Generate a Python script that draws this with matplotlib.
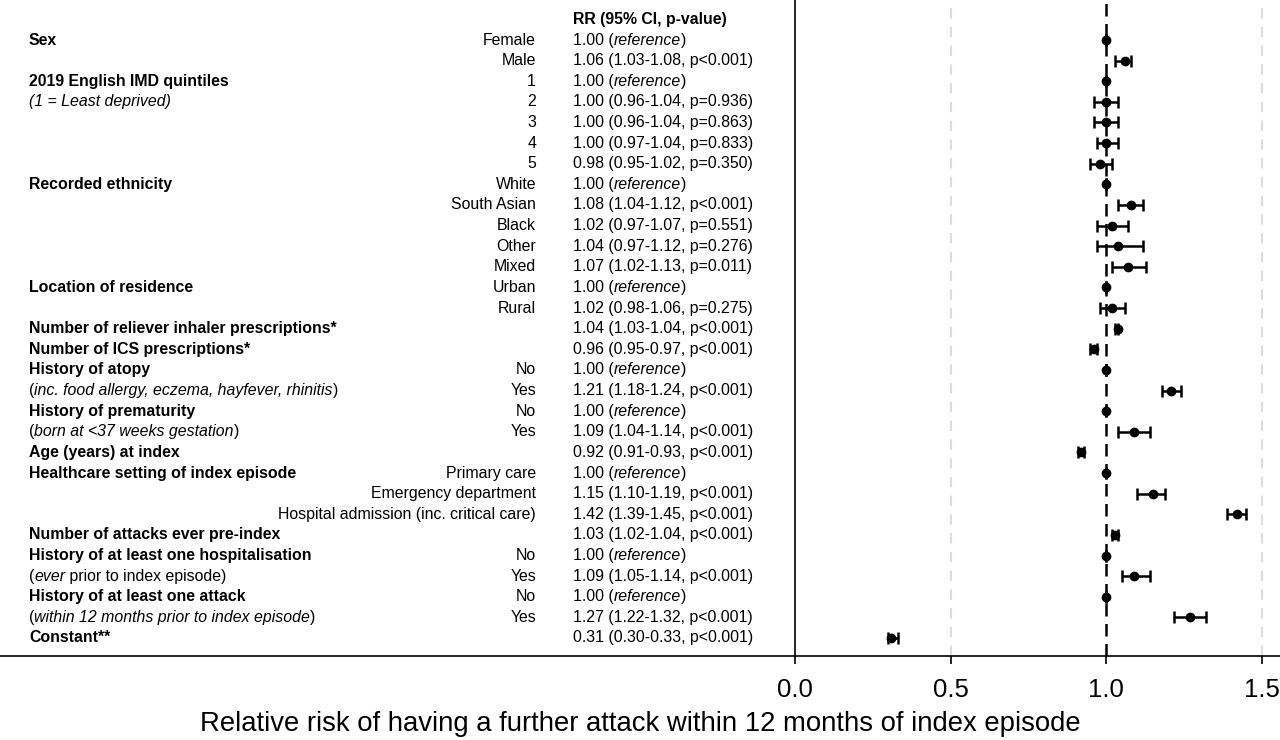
import matplotlib
matplotlib.use("Agg")
import matplotlib.pyplot as plt
from matplotlib.transforms import blended_transform_factory as btf, offset_copy

plt.rcParams['font.family'] = ['Liberation Sans', 'DejaVu Sans']

group_labels = ["Sex", "", "2019 English IMD quintiles", "*(1 = Least deprived)*", "", "", "",
                "Recorded ethnicity", "", "", "", "", "Location of residence", "",
                "Number of reliever inhaler prescriptions*", "Number of ICS prescriptions*",
                "History of atopy", "(*inc. food allergy, eczema, hayfever, rhinitis*)",
                "History of prematurity", "(*born at <37 weeks gestation*)", "Age (years) at index",
                "Healthcare setting of index episode", "", "",
                "Number of attacks ever pre-index", "History of at least one hospitalisation",
                "(*ever* prior to index episode)", "History of at least one attack",
                "(*within 12 months prior to index episode*)", "Constant**"]
categories = ["Female", "Male", "1", "2", "3", "4", "5", "White", "South Asian", "Black", "Other",
              "Mixed", "Urban", "Rural", "", "", "No", "Yes", "No", "Yes", "", "Primary care",
              "Emergency department", "Hospital admission (inc. critical care)", "", "No", "Yes",
              "No", "Yes", ""]
rr = [1.00, 1.06, 1.00, 1.00, 1.00, 1.00, 0.98, 1.00, 1.08, 1.02, 1.04, 1.07, 1.00, 1.02, 1.04, 0.96,
      1.00, 1.21, 1.00, 1.09, 0.92, 1.00, 1.15, 1.42, 1.03, 1.00, 1.09, 1.00, 1.27, 0.31]
lo = [1.00, 1.03, 1.00, 0.96, 0.96, 0.97, 0.95, 1.00, 1.04, 0.97, 0.97, 1.02, 1.00, 0.98, 1.03, 0.95,
      1.00, 1.18, 1.00, 1.04, 0.91, 1.00, 1.10, 1.39, 1.02, 1.00, 1.05, 1.00, 1.22, 0.30]
hi = [1.00, 1.08, 1.00, 1.04, 1.04, 1.04, 1.02, 1.00, 1.12, 1.07, 1.12, 1.13, 1.00, 1.06, 1.04, 0.97,
      1.00, 1.24, 1.00, 1.14, 0.93, 1.00, 1.19, 1.45, 1.04, 1.00, 1.14, 1.00, 1.32, 0.33]
pvals = ["ref", "p<0.001", "ref", "p=0.936", "p=0.863", "p=0.833", "p=0.350", "ref", "p<0.001",
         "p=0.551", "p=0.276", "p=0.011", "ref", "p<0.001", "p<0.001", "p<0.001", "ref", "p<0.001",
         "ref", "p<0.001", "p<0.001", "ref", "p<0.001", "p<0.001", "p<0.001", "ref", "p<0.001",
         "ref", "p<0.001", "p<0.001"]
pvals[13] = "p=0.275"
xticks = [0.0, 0.5, 1.0, 1.5]

W, H = 1280, 740
fig = plt.figure(figsize=(W / 100, H / 100), dpi=100)
renderer = fig.canvas.get_renderer()
ax = fig.add_axes([795 / W, 1 - 656 / H, (W - 795) / W, 656 / H])
n = len(rr)
ax.set_ylim(n - 1 + 18 / 20.62, -40 / 20.62)
ax.set_xlim(0, (W - 795) / 311)

for x in [0.5, 1.5]:
    ax.axvline(x, color='#dddddd', lw=1.5, ls=(0, (5, 4)), zorder=0)
ax.axvline(1.0, color='black', lw=1.8, ls=(0, (5, 3)), zorder=1)

ys = list(range(n))
err = [[r - l for r, l in zip(rr, lo)], [h - r for r, h in zip(rr, hi)]]
ax.errorbar(rr, ys, xerr=err, fmt='o', color='black', ms=6, elinewidth=1.8, capsize=4,
            capthick=1.8, zorder=3)

for s in ['top', 'right', 'bottom']:
    ax.spines[s].set_visible(False)
ax.spines['left'].set_linewidth(1.2)
ax.set_yticks([])
ax.set_xticks(xticks)
ax.set_xticklabels([f"{t:.1f}" for t in xticks], fontsize=18.5)
ax.tick_params(axis='x', length=6, width=1.2, pad=10)

fig.add_artist(plt.Line2D([0, 1], [1 - 656 / H, 1 - 656 / H], color='black', lw=1.2,
                          transform=fig.transFigure))

tr = btf(fig.transFigure, ax.transData)
fs = 11.4


def pieces(x, y, s, **kw):
    """Draw text with *italic* segments, piece by piece."""
    parts = s.split("*")
    dx = 0.0
    for i, p in enumerate(parts):
        if not p:
            continue
        t = fig.text(x, y, p, transform=offset_copy(tr, fig=fig, x=dx, units='dots'),
                     fontstyle='italic' if i % 2 == 1 else 'normal', va='center', ha='left',
                     fontsize=fs, **kw)
        dx += t.get_window_extent(renderer=renderer).width


fig.text(573 / W, -1, "RR (95% CI, p-value)", transform=tr, fontsize=fs, fontweight='bold',
         va='center', ha='left')
for i in range(n):
    g = group_labels[i]
    if g:
        italic = g.startswith("(") or g.startswith("*(")
        if italic:
            pieces(29 / W, i, g)
        else:
            fig.text(29 / W, i, g, transform=tr, fontsize=fs, fontweight='bold',
                     va='center', ha='left')
    if categories[i]:
        fig.text(536 / W, i, categories[i], transform=tr, fontsize=fs, va='center', ha='right')
    if pvals[i] == "ref":
        s = f"{rr[i]:.2f} (*reference*)"
    else:
        s = f"{rr[i]:.2f} ({lo[i]:.2f}-{hi[i]:.2f}, {pvals[i]})"
    pieces(573 / W, i, s)

fig.text(0.5 * (195 + 1085) / W, 1 - 724 / H,
         "Relative risk of having a further attack within 12 months of index episode",
         fontsize=19.8, ha='center', va='center')

fig.savefig("out.png", dpi=100)
